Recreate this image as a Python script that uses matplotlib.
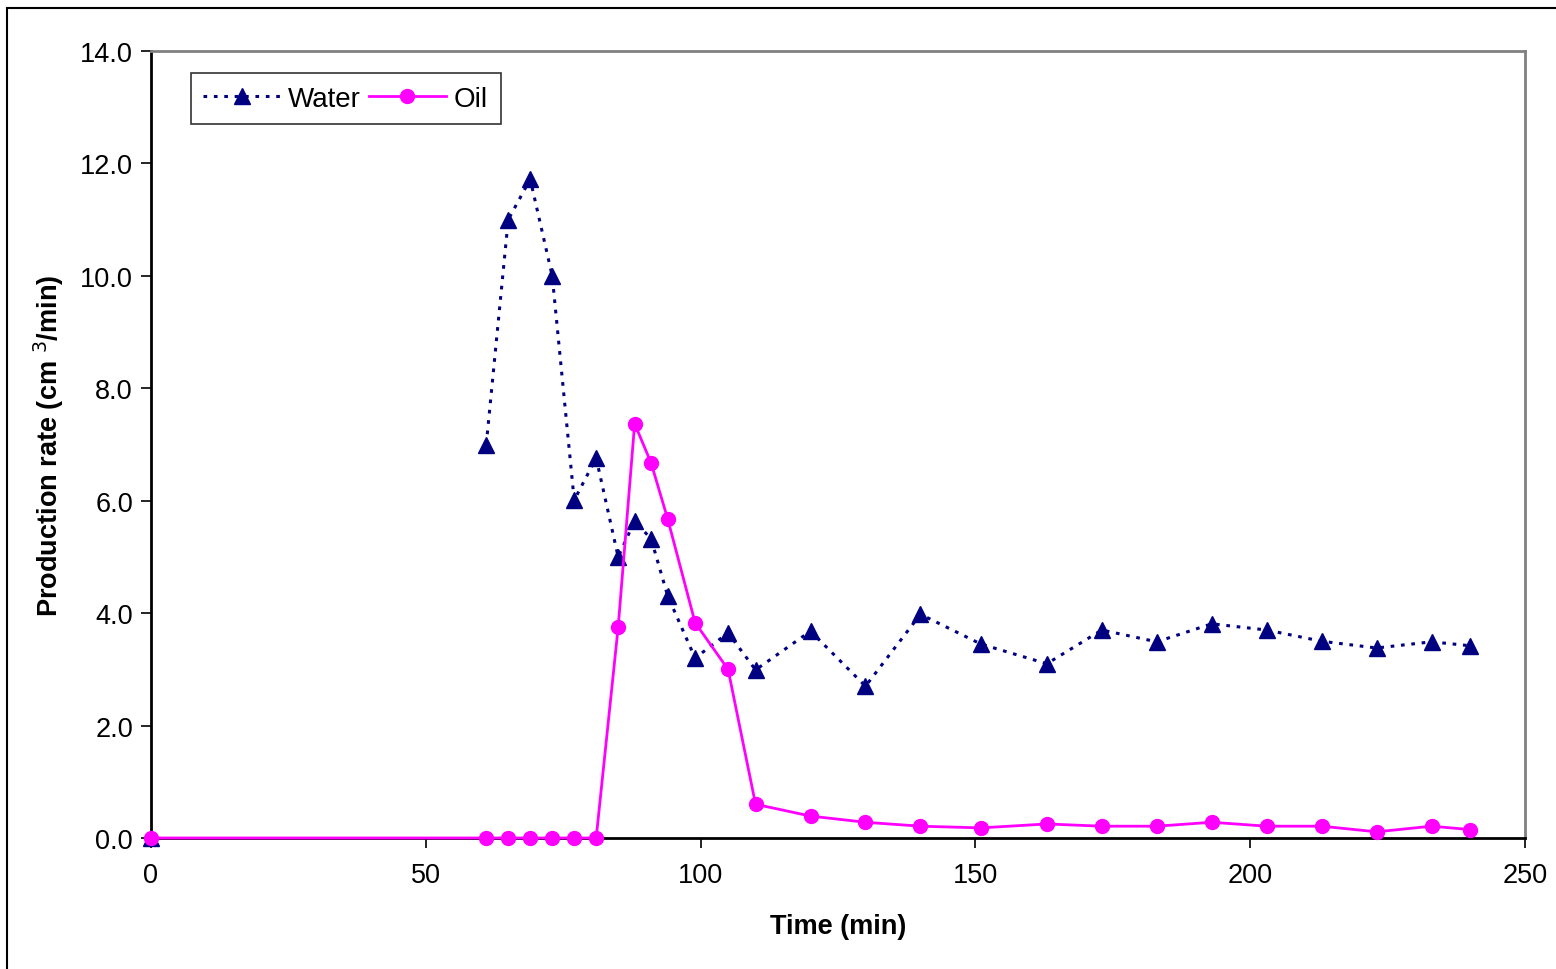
import numpy as np
import matplotlib.pyplot as plt
from matplotlib.patches import Rectangle

plt.rcParams['font.family'] = ['Liberation Sans', 'DejaVu Sans']

# time (min) shared by both series
time = [0, 61, 65, 69, 73, 77, 81, 85, 88, 91, 94, 99, 105, 110, 120, 130,
        140, 151, 163, 173, 183, 193, 203, 213, 223, 233, 240]
# water: first sample is standalone (no line to the next point)
water = [0, 7.0, 11.0, 11.72, 10.0, 6.01, 6.76, 5.0, 5.64, 5.32, 4.31, 3.2,
         3.65, 2.99, 3.68, 2.7, 3.98, 3.45, 3.1, 3.7, 3.49, 3.81, 3.7, 3.5,
         3.38, 3.49, 3.42]
oil = [0, 0, 0, 0, 0, 0, 0, 3.75, 7.37, 6.67, 5.68, 3.83, 3.0, 0.6, 0.39,
       0.28, 0.21, 0.18, 0.25, 0.21, 0.21, 0.28, 0.21, 0.21, 0.11, 0.21, 0.15]

W = 1556
H = 970
fig = plt.figure(figsize=(W / 100, H / 100), dpi=100)
ax = fig.add_axes([151 / W, 1 - 839 / H, (1525 - 151) / W, (839 - 52) / H])

navy = '#000080'
pink = '#FF00FF'

# water line: skip the link between t=0 and t=61
ax.plot(time[1:], water[1:], linestyle=(0, (1.2, 2.2)), color=navy, lw=2.2,
        marker='^', ms=11, mfc=navy, mec=navy, label='Water', zorder=3)
ax.plot(time[:1], water[:1], linestyle='none', marker='^', ms=11,
        mfc=navy, mec=navy, zorder=3, clip_on=False)
ax.plot(time, oil, '-', color=pink, lw=2, marker='o', ms=10,
        mfc=pink, mec=pink, label='Oil', zorder=4, clip_on=False)

ax.set_xlim(0, 250)
ax.set_ylim(0, 14)
ax.set_xticks(np.arange(0, 251, 50))
ax.set_yticks(np.arange(0, 14.1, 2))
ax.set_yticklabels(['%.1f' % v for v in np.arange(0, 14.1, 2)])
ax.tick_params(direction='out', length=7, width=1.2, labelsize=19.5, pad=6)
ax.tick_params(axis='x', pad=10)

for s in ['top', 'right']:
    ax.spines[s].set_color('#808080')
    ax.spines[s].set_linewidth(2)
for s in ['left', 'bottom']:
    ax.spines[s].set_color('black')
    ax.spines[s].set_linewidth(2)

ax.set_xlabel('Time (min)', fontsize=19.5, fontweight='bold', labelpad=18)
ax.set_ylabel('Production rate (cm $^3$/min)', fontsize=19.5,
              fontweight='bold', labelpad=10)

leg = ax.legend(loc='upper left', bbox_to_anchor=(0.029, 0.972), ncol=2,
                fontsize=20, frameon=True, fancybox=False, handlelength=2.75,
                columnspacing=0.3, handletextpad=0.3, borderpad=0.45,
                borderaxespad=0)
leg.get_frame().set_edgecolor('black')
leg.get_frame().set_linewidth(1.2)

# outer chart border
fig.patches.append(Rectangle((7 / W, -0.01), 1.1, 1 - 9 / H + 0.01,
                             transform=fig.transFigure, fill=False,
                             edgecolor='black', lw=1.5))

fig.savefig('out.png', dpi=100)
